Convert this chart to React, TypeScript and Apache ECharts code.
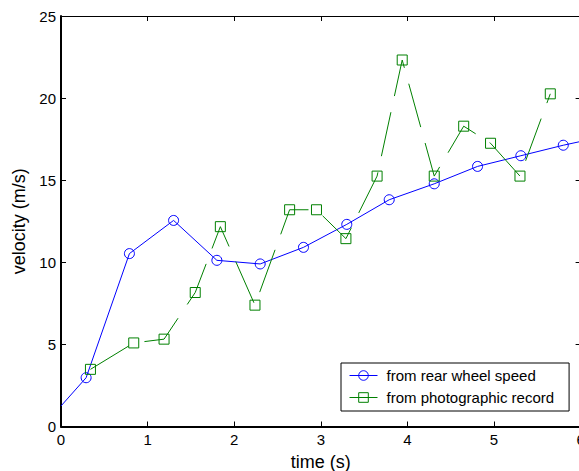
import React, { useEffect, useRef } from "react";
import * as echarts from "echarts";

const xTicks = [0, 1, 2, 3, 4, 5, 6];
const yTicks = [0, 5, 10, 15, 20, 25];

const rearT = [0, 0.29, 0.79, 1.3, 1.8, 2.3, 2.8, 3.3, 3.79, 4.31, 4.81, 5.31, 5.8, 6.3];
const rearV = [1.25, 2.97, 10.53, 12.55, 10.12, 9.9, 10.91, 12.31, 13.81, 14.78, 15.84, 16.49, 17.13, 17.7];

const photoT = [0.34, 0.84, 1.19, 1.55, 1.84, 2.24, 2.64, 2.95, 3.29, 3.65, 3.94, 4.31, 4.65, 4.96, 5.3, 5.65];
const photoV = [3.48, 5.09, 5.32, 8.16, 12.17, 7.39, 13.2, 13.2, 11.44, 15.25, 22.32, 15.25, 18.29, 17.25, 15.25, 20.26];

const seriesNames = ["from rear wheel speed", "from photographic record"];

const FONT = "'Liberation Sans', Arial, sans-serif";

export default function App() {
  const ref = useRef<HTMLDivElement>(null);
  useEffect(() => {
    if (!ref.current) return;
    const chart = echarts.init(ref.current, undefined, { renderer: "svg" });
    const xMin = xTicks[0];
    const xMax = xTicks[xTicks.length - 1];
    const yMin = yTicks[0];
    const yMax = yTicks[yTicks.length - 1];
    const baseAxis = {
      type: "value" as const,
      splitLine: { show: false },
      axisLine: { show: true, onZero: false, lineStyle: { color: "#000", width: 1 } },
      axisTick: { show: true, inside: true, length: 5, lineStyle: { color: "#000", width: 1 } },
    };
    chart.setOption({
      animation: false,
      backgroundColor: "#fff",
      textStyle: { fontFamily: FONT },
      grid: { left: 61, top: 16, width: 519.6, height: 410.5, containLabel: false, outerBoundsMode: "none" },
      xAxis: [
        {
          ...baseAxis,
          position: "bottom",
          min: xMin,
          max: xMax,
          interval: 1,
          axisLine: { show: true, onZero: false, lineStyle: { color: "#000", width: 2 } },
          axisLabel: { color: "#000", fontSize: 15, margin: 5, fontFamily: FONT },
          name: "time (s)",
          nameLocation: "middle",
          nameGap: 26,
          nameTextStyle: { color: "#000", fontSize: 18, fontFamily: FONT },
        },
        {
          ...baseAxis,
          position: "top",
          min: xMin,
          max: xMax,
          interval: 1,
          axisLabel: { show: false },
        },
      ],
      yAxis: [
        {
          ...baseAxis,
          position: "left",
          min: yMin,
          max: yMax,
          interval: 5,
          axisLine: { show: true, onZero: false, lineStyle: { color: "#000", width: 2 } },
          axisLabel: { color: "#000", fontSize: 15, margin: 5, fontFamily: FONT },
          name: "velocity (m/s)",
          nameLocation: "middle",
          nameGap: 29,
          nameRotate: 90,
          nameTextStyle: { color: "#000", fontSize: 18, fontFamily: FONT },
        },
        {
          ...baseAxis,
          position: "right",
          min: yMin,
          max: yMax,
          interval: 5,
          axisLabel: { show: false },
        },
      ],
      legend: {
        orient: "vertical",
        left: 341,
        top: 363,
        backgroundColor: "#fff",
        borderColor: "#000",
        borderWidth: 1,
        borderRadius: 0,
        padding: [5, 15, 6, 8],
        itemWidth: 28,
        itemHeight: 12,
        itemGap: 7,
        lineStyle: { width: 1 },
        itemStyle: { borderWidth: 1 },
        textStyle: { color: "#000", fontSize: 15, lineHeight: 12, fontFamily: FONT, padding: [0, 0, 0, 4] },
        data: seriesNames,
      },
      series: [
        {
          name: seriesNames[0],
          type: "line",
          xAxisIndex: 0,
          yAxisIndex: 0,
          data: rearT.map((t, i) =>
            i === 0 || t > xMax ? { value: [t, rearV[i]], symbol: "none" } : [t, rearV[i]]
          ),
          symbol: "circle",
          symbolSize: 10,
          showAllSymbol: true,
          clip: true,
          lineStyle: { color: "#0000ff", width: 1, type: "solid" },
          itemStyle: { color: "none", borderColor: "#0000ff", borderWidth: 1 },
          emphasis: { disabled: true },
        },
        {
          name: seriesNames[1],
          type: "line",
          xAxisIndex: 0,
          yAxisIndex: 0,
          data: photoT.map((t, i) => [t, photoV[i]]),
          symbol: "rect",
          symbolSize: 10,
          showAllSymbol: true,
          clip: true,
          lineStyle: { color: "#008000", width: 1, type: [45, 16.5] },
          itemStyle: { color: "none", borderColor: "#008000", borderWidth: 1 },
          emphasis: { disabled: true },
        },
      ],
    });
    return () => chart.dispose();
  }, []);
  return (
    <div
      style={{
        position: "fixed",
        left: 0,
        top: 0,
        width: 579,
        height: 471,
        overflow: "hidden",
        background: "#fff",
      }}
    >
      <div ref={ref} style={{ width: 600, height: 471 }} />
    </div>
  );
}
